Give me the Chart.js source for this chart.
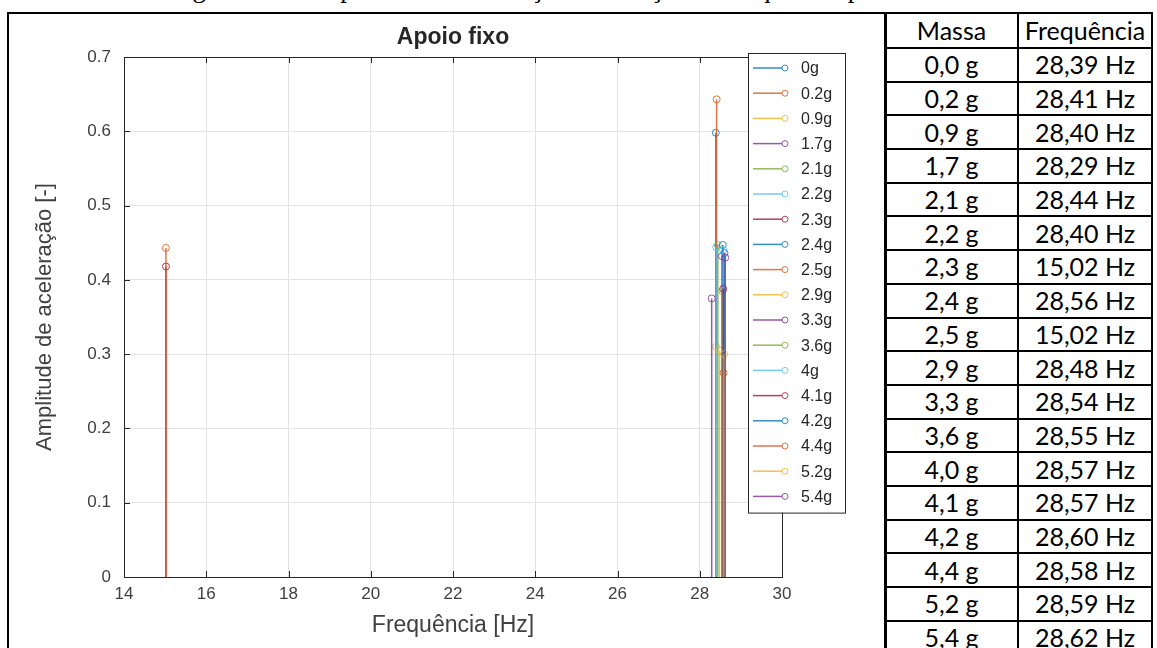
<!DOCTYPE html>
<html lang="pt">

<head>
    <meta charset="UTF-8">
    <title>Apoio fixo</title>
    <script src="https://cdn.jsdelivr.net/npm/chart.js"></script>
    <style>
        body { margin: 0; width: 1157px; height: 648px; overflow: hidden; background: #fff; position: relative; }
        #caption { position: absolute; left: 0; top: 0; width: 1157px; height: 10px; overflow: hidden; }
        #caption span { position: absolute; left: 170px; top: -25px; font: 27px "Liberation Serif"; line-height: 27px; white-space: nowrap; }
        #frame { position: absolute; left: 7px; top: 12px; width: 876px; height: 700px; border: 2px solid #000; }
        #chart-div { position: absolute; left: 9px; top: 14px; width: 875px; height: 634px; }
        #tbl { position: absolute; left: 884px; top: 12px; border-collapse: collapse; font: 25px Lato; color: #000; }
        #tbl td { border: 2px solid #000; padding: 0; text-align: center; height: 31.7px; line-height: 31px; }
        #tbl tr:first-child td { height: 33px; line-height: 33px; }
        #tbl td:first-child { width: 131px; }
        #tbl td:last-child { width: 132px; }
    </style>
</head>

<body>
    <div id="caption"><span>Figura 18 – Amplitude de aceleração em função da frequência para cada massa</span></div>
    <div id="frame"></div>
    <div id="chart-div">
        <canvas id="stemChart" width="875" height="634"></canvas>
    </div>
    <table id="tbl">
        <tbody id="rows">
            <tr><td>Massa</td><td>Frequência</td></tr>
        </tbody>
    </table>

    <script>
        // legend names, table names, frequency [Hz] and peak amplitude for each added mass
        const masses = ['0g', '0.2g', '0.9g', '1.7g', '2.1g', '2.2g', '2.3g', '2.4g', '2.5g', '2.9g', '3.3g', '3.6g', '4g', '4.1g', '4.2g', '4.4g', '5.2g', '5.4g'];
        const massLabels = ['0,0 g', '0,2 g', '0,9 g', '1,7 g', '2,1 g', '2,2 g', '2,3 g', '2,4 g', '2,5 g', '2,9 g', '3,3 g', '3,6 g', '4,0 g', '4,1 g', '4,2 g', '4,4 g', '5,2 g', '5,4 g'];
        const freqs = [28.39, 28.41, 28.40, 28.29, 28.44, 28.40, 15.02, 28.56, 15.02, 28.48, 28.54, 28.55, 28.57, 28.57, 28.60, 28.58, 28.59, 28.62];
        const amps = [0.598, 0.643, 0.310, 0.375, 0.447, 0.444, 0.418, 0.447, 0.443, 0.305, 0.432, 0.385, 0.440, 0.388, 0.436, 0.275, 0.300, 0.430];

        const xTicks = [14, 16, 18, 20, 22, 24, 26, 28, 30];
        const yTicks = [0, 0.1, 0.2, 0.3, 0.4, 0.5, 0.6, 0.7];

        // matlab default colour order, a bit washed out like the screenshot
        const palette = ['rgba(0,114,189,0.8)', 'rgba(217,83,25,0.8)', 'rgba(237,177,32,0.8)', 'rgba(126,47,142,0.8)',
            'rgba(119,172,48,0.8)', 'rgba(77,190,238,0.8)', 'rgba(162,20,47,0.8)'];

        // table on the right
        const rows = document.getElementById('rows');
        massLabels.forEach((m, i) => {
            const tr = document.createElement('tr');
            const f = freqs[i].toFixed(2).replace('.', ',') + ' Hz';
            tr.innerHTML = `<td>${m}</td><td>${f}</td>`;
            rows.appendChild(tr);
        });

        const datasets = masses.map((m, i) => ({
            label: m,
            data: [{ x: freqs[i], y: 0 }, { x: freqs[i], y: amps[i] }],
            borderColor: palette[i % 7],
            borderWidth: 1.5,
            showLine: true,
            pointRadius: [0, 3.5],
            pointBorderWidth: 1,
            pointBorderColor: palette[i % 7],
            pointBackgroundColor: 'rgba(255,255,255,0)',
            order: -i
        }));

        // box round the axes, inward ticks and the legend inside the plot
        const boxAndLegend = {
            id: 'boxAndLegend',
            afterLayout(chart) {
                // centre the title over the plot area, like matlab
                if (chart.titleBlock) {
                    chart.titleBlock.left = chart.chartArea.left;
                    chart.titleBlock.right = chart.chartArea.right;
                    chart.titleBlock.width = chart.chartArea.right - chart.chartArea.left;
                }
            },
            afterDraw(chart) {
                const { ctx, chartArea: a, scales } = chart;
                ctx.save();
                ctx.strokeStyle = '#262626';
                ctx.lineWidth = 1;
                ctx.strokeRect(a.left + 0.5, a.top + 0.5, a.right - a.left, a.bottom - a.top);
                ctx.beginPath();
                xTicks.forEach(v => {
                    const x = Math.round(scales.x.getPixelForValue(v)) + 0.5;
                    ctx.moveTo(x, a.bottom); ctx.lineTo(x, a.bottom - 6);
                    ctx.moveTo(x, a.top); ctx.lineTo(x, a.top + 6);
                });
                yTicks.forEach(v => {
                    const y = Math.round(scales.y.getPixelForValue(v)) + 0.5;
                    ctx.moveTo(a.left, y); ctx.lineTo(a.left + 6, y);
                    ctx.moveTo(a.right, y); ctx.lineTo(a.right - 6, y);
                });
                ctx.stroke();

                const rowH = 25.2;
                const x0 = a.right - 34, y0 = a.top - 4, w = 97, h = masses.length * rowH + 6;
                ctx.fillStyle = '#fff';
                ctx.fillRect(x0, y0, w, h);
                ctx.strokeRect(x0 + 0.5, y0 + 0.5, w, h);
                ctx.font = '16px "Liberation Sans"';
                ctx.textBaseline = 'middle';
                masses.forEach((m, i) => {
                    const y = y0 + 15 + i * rowH;
                    const c = palette[i % 7];
                    ctx.strokeStyle = c;
                    ctx.lineWidth = 1.5;
                    ctx.beginPath();
                    ctx.moveTo(x0 + 5, y); ctx.lineTo(x0 + 34, y);
                    ctx.stroke();
                    ctx.lineWidth = 1;
                    ctx.beginPath();
                    ctx.arc(x0 + 37, y, 3, 0, Math.PI * 2);
                    ctx.stroke();
                    ctx.fillStyle = '#262626';
                    ctx.fillText(m, x0 + 53, y + 1);
                });
                ctx.restore();
            }
        };

        const config = {
            type: 'scatter',
            data: { datasets },
            options: {
                responsive: false,
                animation: false,
                layout: { padding: { left: 0, right: 102, top: 0, bottom: 0 } },
                plugins: {
                    legend: { display: false },
                    tooltip: { enabled: false },
                    title: {
                        display: true,
                        text: 'Apoio fixo',
                        color: '#262626',
                        font: { family: 'Liberation Sans', size: 23, weight: 'bold' },
                        padding: { top: 10, bottom: 5.4 }
                    }
                },
                scales: {
                    x: {
                        type: 'linear',
                        min: 14,
                        max: 30,
                        afterFit: s => { s.height = 71; },
                        afterBuildTicks: s => { s.ticks = xTicks.map(v => ({ value: v })); },
                        grid: { color: '#e3e3e3', drawTicks: false },
                        border: { display: false },
                        ticks: { color: '#404040', padding: 7, font: { family: 'Liberation Sans', size: 17 }, maxRotation: 0 },
                        title: {
                            display: true,
                            text: 'Frequência [Hz]',
                            color: '#404040',
                            font: { family: 'Liberation Sans', size: 23 },
                            padding: { top: 0, bottom: 9 }
                        }
                    },
                    y: {
                        min: 0,
                        max: 0.7,
                        afterFit: s => { s.width = 115; },
                        afterBuildTicks: s => { s.ticks = yTicks.map(v => ({ value: v })); },
                        grid: { color: '#e3e3e3', drawTicks: false },
                        border: { display: false },
                        ticks: { color: '#404040', padding: 13, font: { family: 'Liberation Sans', size: 17 } },
                        title: {
                            display: true,
                            text: 'Amplitude de aceleração [-]',
                            color: '#404040',
                            font: { family: 'Liberation Sans', size: 22 },
                            padding: { top: 23, bottom: 0 }
                        }
                    }
                }
            },
            plugins: [boxAndLegend]
        };

        new Chart(document.getElementById('stemChart').getContext('2d'), config);
    </script>
</body>

</html>
